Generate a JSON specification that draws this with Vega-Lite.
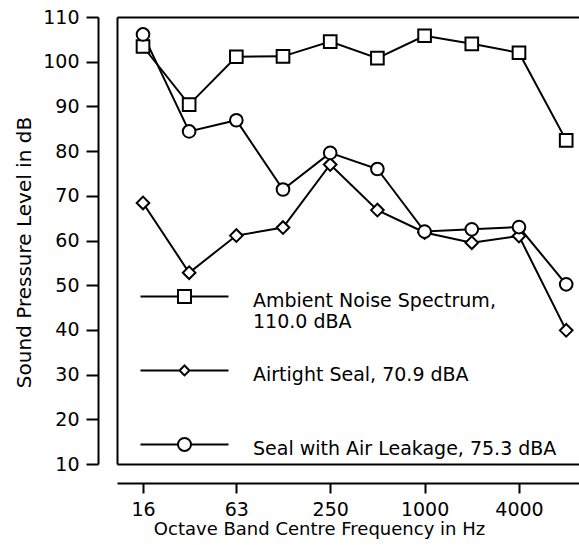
{
  "$schema": "https://vega.github.io/schema/vega-lite/v6.json",
  "width": 462,
  "height": 447,
  "autosize": {"type": "none"},
  "padding": {"left": 117, "top": 17, "right": 0, "bottom": 81},
  "config": {
    "view": {"stroke": null},
    "font": "DejaVu Sans",
    "axis": {"labelFont": "DejaVu Sans", "titleFont": "DejaVu Sans"}
  },
  "data": {
    "values": [
      {"series": "Ambient", "freq": 16, "spl": 103.4},
      {"series": "Ambient", "freq": 31.5, "spl": 90.4},
      {"series": "Ambient", "freq": 63, "spl": 101.1},
      {"series": "Ambient", "freq": 125, "spl": 101.2},
      {"series": "Ambient", "freq": 250, "spl": 104.5},
      {"series": "Ambient", "freq": 500, "spl": 100.8},
      {"series": "Ambient", "freq": 1000, "spl": 105.8},
      {"series": "Ambient", "freq": 2000, "spl": 104},
      {"series": "Ambient", "freq": 4000, "spl": 102},
      {"series": "Ambient", "freq": 8000, "spl": 82.4},
      {"series": "Airtight", "freq": 16, "spl": 68.4},
      {"series": "Airtight", "freq": 31.5, "spl": 52.8},
      {"series": "Airtight", "freq": 63, "spl": 61.1},
      {"series": "Airtight", "freq": 125, "spl": 62.9},
      {"series": "Airtight", "freq": 250, "spl": 77},
      {"series": "Airtight", "freq": 500, "spl": 66.8},
      {"series": "Airtight", "freq": 1000, "spl": 61.8},
      {"series": "Airtight", "freq": 2000, "spl": 59.5},
      {"series": "Airtight", "freq": 4000, "spl": 61},
      {"series": "Airtight", "freq": 8000, "spl": 39.9},
      {"series": "Leakage", "freq": 16, "spl": 106.1},
      {"series": "Leakage", "freq": 31.5, "spl": 84.4},
      {"series": "Leakage", "freq": 63, "spl": 86.9},
      {"series": "Leakage", "freq": 125, "spl": 71.4},
      {"series": "Leakage", "freq": 250, "spl": 79.6},
      {"series": "Leakage", "freq": 500, "spl": 76},
      {"series": "Leakage", "freq": 1000, "spl": 62},
      {"series": "Leakage", "freq": 2000, "spl": 62.5},
      {"series": "Leakage", "freq": 4000, "spl": 63},
      {"series": "Leakage", "freq": 8000, "spl": 50.2}
    ]
  },
  "resolve": {"axis": {"x": "independent", "y": "independent"}, "scale": {"shape": "independent"}},
  "layer": [
    {
      "mark": {"type": "line", "color": "black", "strokeWidth": 2},
      "encoding": {
        "x": {
          "field": "freq", "type": "quantitative",
          "scale": {"type": "log", "base": 2, "domain": [10.92, 9656], "nice": false, "zero": false},
          "axis": {
            "orient": "bottom", "offset": 19,
            "values": [16, 63, 250, 1000, 4000], "format": "d",
            "domainColor": "black", "domainWidth": 2,
            "tickColor": "black", "tickWidth": 2, "tickSize": 10,
            "labelFontSize": 19, "labelColor": "black", "labelPadding": 7,
            "labelFlush": false, "labelOverlap": false,
            "title": "Octave Band Centre Frequency in Hz",
            "titleFontSize": 18, "titleFontWeight": "normal", "titleColor": "black",
            "titlePadding": 1, "titleX": 202,
            "grid": false
          }
        },
        "y": {
          "field": "spl", "type": "quantitative",
          "scale": {"domain": [10, 110], "nice": false, "zero": false},
          "axis": {
            "orient": "left", "offset": 19,
            "values": [10, 20, 30, 40, 50, 60, 70, 80, 90, 100, 110],
            "domainColor": "black", "domainWidth": 2,
            "tickColor": "black", "tickWidth": 2, "tickSize": 12,
            "labelFontSize": 19, "labelColor": "black", "labelPadding": 7,
            "title": "Sound Pressure Level in dB",
            "titleFontSize": 20, "titleFontWeight": "normal", "titleColor": "black",
            "titlePadding": 8, "titleY": 235,
            "grid": true, "gridColor": "black", "gridWidth": 2,
            "gridOpacity": {"condition": {"test": "datum.value == 10 || datum.value == 110", "value": 1}, "value": 0}
          }
        },
        "detail": {"field": "series", "type": "nominal"}
      }
    },
    {
      "mark": {"type": "point", "filled": true, "fill": "white", "stroke": "black", "strokeWidth": 2, "opacity": 1, "size": 160},
      "encoding": {
        "x": {"field": "freq", "type": "quantitative", "axis": null},
        "y": {
          "field": "spl", "type": "quantitative",
          "axis": {"orient": "left", "offset": 0, "domainColor": "black", "domainWidth": 2, "ticks": false, "labels": false, "title": null, "grid": false}
        },
        "shape": {
          "field": "series", "type": "nominal",
          "scale": {"domain": ["Ambient", "Airtight", "Leakage"], "range": ["square", "diamond", "circle"]},
          "legend": null
        }
      }
    },
    {
      "mark": {"type": "point", "filled": false, "color": "black", "strokeWidth": 2, "opacity": 0, "size": 196},
      "encoding": {
        "x": {"field": "freq", "type": "quantitative", "axis": null},
        "y": {"field": "spl", "type": "quantitative", "axis": null},
        "shape": {
          "field": "series", "type": "nominal",
          "scale": {
            "domain": ["Ambient", "Airtight", "Leakage"],
            "range": [
              "M-6.29,0.71H-0.93M0.93,0.71H6.29M-0.93,-0.22H0.93V1.64H-0.93Z",
              "M0,-0.22M0,1.64M-6.29,0.71H-0.71M0.71,0.71H6.29M-0.71,0.71L0,0L0.71,0.71L0,1.42Z",
              "M-6.29,0.71H-0.93M0.93,0.71H6.29M-0.93,0.71A0.93,0.93,0,1,1,0.93,0.71A0.93,0.93,0,1,1,-0.93,0.71Z"
            ]
          },
          "legend": {
            "title": null, "orient": "none", "legendX": 58, "legendY": 265, "padding": 0,
            "symbolSize": 196, "symbolStrokeWidth": 2, "symbolOpacity": 1,
            "labelFont": "DejaVu Sans", "labelFontSize": 19, "labelColor": "black", "labelLimit": 500,
            "labelOffset": 59, "labelBaseline": "top", "rowPadding": 24,
            "labelExpr": "datum.value == 'Ambient' ? ['Ambient Noise Spectrum,', '110.0 dBA'] : datum.value == 'Airtight' ? ['Airtight Seal, 70.9 dBA', ' '] : ['Seal with Air Leakage, 75.3 dBA', ' ']"
          }
        }
      }
    }
  ]
}
